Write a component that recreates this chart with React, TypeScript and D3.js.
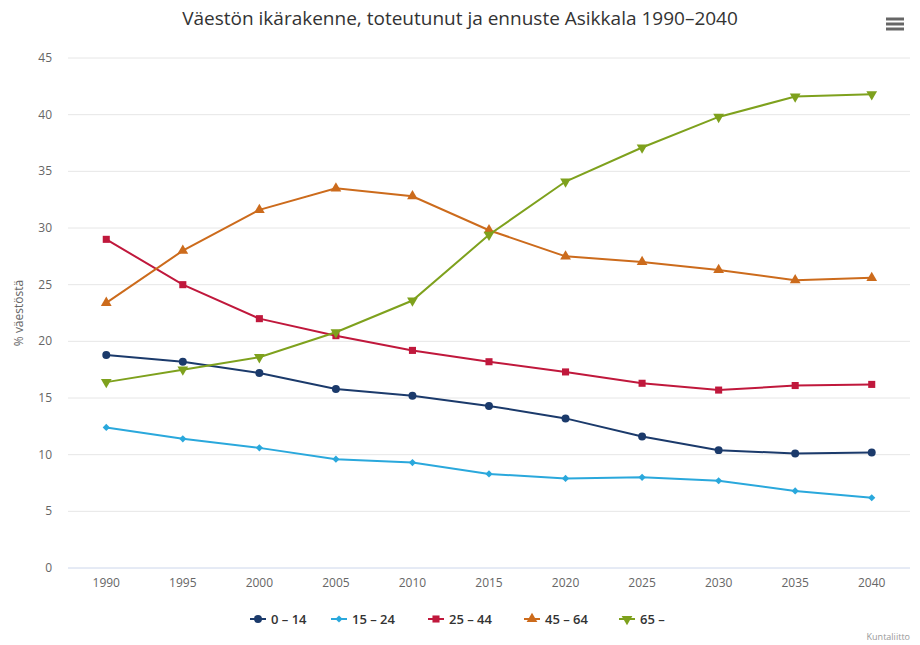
import { useEffect, useRef } from 'react';
import * as d3 from 'd3';

const years = ['1990', '1995', '2000', '2005', '2010', '2015', '2020', '2025', '2030', '2035', '2040'];
const seriesNames = ['0 – 14', '15 – 24', '25 – 44', '45 – 64', '65 –'];
const age0_14 = [18.8, 18.2, 17.2, 15.8, 15.2, 14.3, 13.2, 11.6, 10.4, 10.1, 10.2];
const age15_24 = [12.4, 11.4, 10.6, 9.6, 9.3, 8.3, 7.9, 8.0, 7.7, 6.8, 6.2];
const age25_44 = [29.0, 25.0, 22.0, 20.5, 19.2, 18.2, 17.3, 16.3, 15.7, 16.1, 16.2];
const age45_64 = [23.4, 28.0, 31.6, 33.5, 32.8, 29.8, 27.5, 27.0, 26.3, 25.4, 25.6];
const age65 = [16.4, 17.5, 18.6, 20.8, 23.6, 29.4, 34.1, 37.1, 39.8, 41.6, 41.8];
const yTicks = [0, 5, 10, 15, 20, 25, 30, 35, 40, 45];

const colors = ['#1b3a6b', '#2aa8dc', '#c0183c', '#cc6b1c', '#7ea11d'];
const symbols = [d3.symbolCircle, d3.symbolSquare, d3.symbolSquare, d3.symbolTriangle, d3.symbolTriangle];
const sizes = [50, 26, 50, 50, 50];
const rotations = [0, 45, 0, 0, 180];

const App = () => {
	const ref = useRef<SVGSVGElement>(null);

	useEffect(() => {
		const svg = d3.select(ref.current);
		svg.selectAll('*').remove();
		const font = '"Open Sans", sans-serif';
		const allSeries = [age0_14, age15_24, age25_44, age45_64, age65];

		const x = d3.scalePoint().domain(years).range([68, 910]).padding(0.5);
		const y = d3.scaleLinear().domain([0, 45]).range([568, 58]);

		// title
		svg
			.append('text')
			.attr('x', 460)
			.attr('y', 25)
			.attr('text-anchor', 'middle')
			.style('font-family', font)
			.style('font-size', '19px')
			.attr('fill', '#333')
			.text('Väestön ikärakenne, toteutunut ja ennuste Asikkala 1990–2040');

		// menu icon
		const menu = svg.append('g').attr('stroke', '#666').attr('stroke-width', 3);
		[19, 24, 29].forEach((yy) => {
			menu.append('line').attr('x1', 886).attr('x2', 904).attr('y1', yy).attr('y2', yy);
		});

		// gridlines
		svg
			.append('g')
			.selectAll('line')
			.data(yTicks)
			.join('line')
			.attr('x1', 68)
			.attr('x2', 910)
			.attr('y1', (d) => y(d))
			.attr('y2', (d) => y(d))
			.attr('stroke', (d) => (d === 0 ? '#ccd6eb' : '#e6e6e6'))
			.attr('stroke-width', 1);

		// y axis labels
		svg
			.append('g')
			.selectAll('text')
			.data(yTicks)
			.join('text')
			.attr('x', 52)
			.attr('y', (d) => y(d) + 4)
			.attr('text-anchor', 'end')
			.style('font-family', font)
			.style('font-size', '12px')
			.attr('fill', '#666')
			.text((d) => d);

		svg
			.append('text')
			.attr('transform', `translate(23, ${y(22.5)}) rotate(-90)`)
			.attr('text-anchor', 'middle')
			.style('font-family', font)
			.style('font-size', '12px')
			.attr('fill', '#666')
			.text('% väestöstä');

		// x axis labels
		svg
			.append('g')
			.selectAll('text')
			.data(years)
			.join('text')
			.attr('x', (d) => x(d)!)
			.attr('y', 587)
			.attr('text-anchor', 'middle')
			.style('font-family', font)
			.style('font-size', '12px')
			.attr('fill', '#666')
			.text((d) => d);

		const line = d3
			.line<number>()
			.x((_, i) => x(years[i])!)
			.y((d) => y(d));

		allSeries.forEach((vals, si) => {
			const g = svg.append('g');
			g.append('path')
				.datum(vals)
				.attr('d', line)
				.attr('fill', 'none')
				.attr('stroke', colors[si])
				.attr('stroke-width', 2);
			g.selectAll('path.m')
				.data(vals)
				.join('path')
				.attr('class', 'm')
				.attr('d', d3.symbol(symbols[si], sizes[si])())
				.attr('transform', (d, i) => `translate(${x(years[i])}, ${y(d)}) rotate(${rotations[si]})`)
				.attr('fill', colors[si]);
		});

		// legend
		const legendX = [250, 331, 428, 524, 619];
		seriesNames.forEach((name, si) => {
			const lg = svg.append('g').attr('transform', `translate(${legendX[si]}, 619)`);
			lg.append('line').attr('x1', 0).attr('x2', 16).attr('stroke', colors[si]).attr('stroke-width', 2);
			lg.append('path')
				.attr('d', d3.symbol(symbols[si], sizes[si])())
				.attr('transform', `translate(8, 0) rotate(${rotations[si]})`)
				.attr('fill', colors[si]);
			lg.append('text')
				.attr('x', 21)
				.attr('y', 5)
				.style('font-family', font)
				.style('font-size', '13px')
				.style('font-weight', '600')
				.attr('fill', '#333')
				.text(name);
		});

		// credit
		svg
			.append('text')
			.attr('x', 910)
			.attr('y', 640)
			.attr('text-anchor', 'end')
			.style('font-family', font)
			.style('font-size', '9px')
			.attr('fill', '#999')
			.text('Kuntaliitto');
	}, []);

	return (
		<svg
			ref={ref}
			width={920}
			height={645}
			style={{ position: 'absolute', left: 0, top: 0, background: '#fff' }}
		></svg>
	);
};

export default App;
